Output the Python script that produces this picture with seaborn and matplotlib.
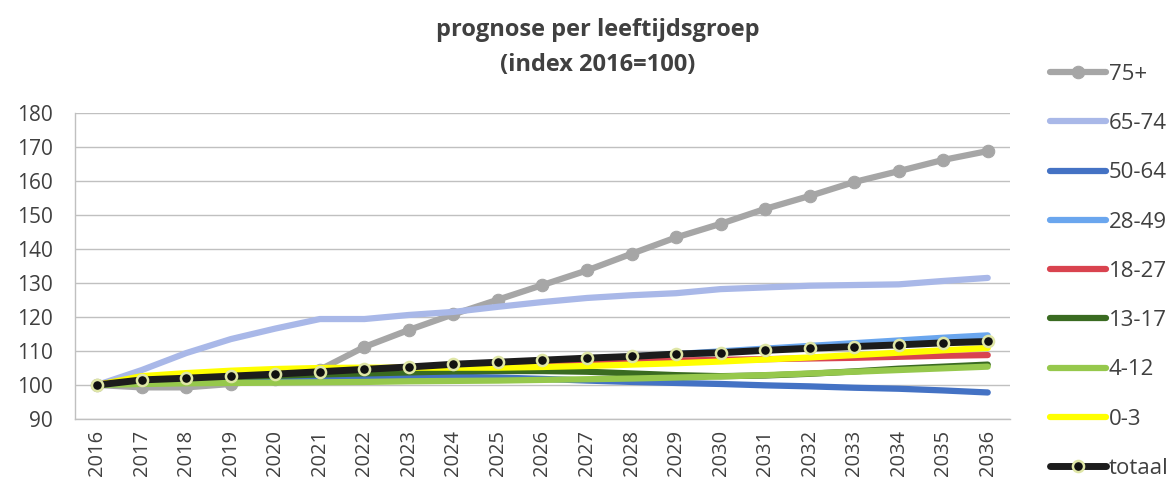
import matplotlib
matplotlib.use("Agg")
import matplotlib.pyplot as plt
import seaborn as sns
import pandas as pd

jaren = list(range(2016, 2037))

s75 = [100, 99.3, 99.3, 100.3, 101.8, 104.5, 111.2, 116.2, 120.8, 125.1, 129.4,
       133.7, 138.6, 143.4, 147.4, 151.8, 155.6, 159.7, 162.9, 166.2, 168.8]
s65 = [100, 104.4, 109.4, 113.5, 116.6, 119.4, 119.4, 120.6, 121.5, 123.0, 124.4,
       125.6, 126.4, 127.0, 128.2, 128.7, 129.2, 129.4, 129.6, 130.6, 131.5]
s50 = [100, 100.6, 101.1, 101.5, 101.8, 102.1, 102.3, 102.4, 102.4, 102.2, 101.8,
       101.3, 100.9, 100.6, 100.3, 99.9, 99.6, 99.2, 98.9, 98.4, 97.8]
s28 = [100, 101.2, 101.8, 102.4, 103.0, 103.6, 104.2, 104.9, 105.6, 106.3, 107.0,
       107.7, 108.4, 109.1, 109.9, 110.7, 111.5, 112.3, 113.1, 113.9, 114.6]
s18 = [100, 102.2, 102.7, 103.2, 103.7, 104.2, 104.7, 105.2, 105.6, 106.0, 106.4,
       106.7, 107.0, 107.2, 107.4, 107.6, 107.8, 108.0, 108.3, 108.6, 108.8]
s13 = [100, 101.2, 101.8, 102.3, 102.7, 103.1, 103.4, 103.7, 104.0, 104.1, 104.1,
       103.9, 103.4, 102.9, 102.6, 102.8, 103.3, 104.0, 104.8, 105.4, 106.0]
s4 = [100, 100.3, 100.5, 100.6, 100.7, 100.8, 100.9, 101.1, 101.2, 101.3, 101.5,
      101.7, 101.9, 102.2, 102.5, 102.9, 103.4, 103.9, 104.4, 104.9, 105.4]
s0 = [100, 102.6, 103.5, 104.2, 104.7, 105.0, 105.1, 105.1, 105.1, 105.1, 105.3,
      105.6, 106.0, 106.4, 106.9, 107.5, 108.1, 108.8, 109.5, 110.2, 110.9]
totaal = [100, 101.5, 102.0, 102.6, 103.2, 103.9, 104.6, 105.3, 106.1, 106.7, 107.3,
          107.9, 108.4, 109.1, 109.5, 110.2, 110.8, 111.3, 111.8, 112.4, 112.8]

groepen = ["75+", "65-74", "50-64", "28-49", "18-27", "13-17", "4-12", "0-3", "totaal"]
reeksen = [s75, s65, s50, s28, s18, s13, s4, s0, totaal]
kleuren = ["#a6a6a6", "#a9b8e8", "#4472c4", "#6aa6ee", "#d9434f",
           "#3a6b21", "#96c84c", "#ffff00", "#1c1c1c"]

df = pd.DataFrame({"jaar": jaren})
for g, r in zip(groepen, reeksen):
    df[g] = r

sns.set_style("white")
plt.rcParams["font.family"] = ["Open Sans", "DejaVu Sans"]

fig = plt.figure(figsize=(11.75, 4.86), dpi=100)
ax = fig.add_axes([75 / 1175, 1 - 419 / 486, 935 / 1175, 306 / 486])

for g, c in zip(groepen, kleuren):
    if g == "75+":
        sns.lineplot(data=df, x="jaar", y=g, ax=ax, color=c, linewidth=4.5,
                     marker="o", markersize=9, markeredgecolor=c, label=g)
    elif g == "totaal":
        sns.lineplot(data=df, x="jaar", y=g, ax=ax, color=c, linewidth=5,
                     marker="o", markersize=8, markerfacecolor="#111111",
                     markeredgecolor="#dfe6a6", markeredgewidth=1.8, label=g)
    else:
        sns.lineplot(data=df, x="jaar", y=g, ax=ax, color=c, linewidth=4.5, label=g)

ax.set_xlim(2015.5, 2036.5)
ax.set_ylim(90, 180)
ax.set_yticks(range(90, 181, 10))
ax.set_xticks(jaren)
ax.set_xticklabels([str(j) for j in jaren], rotation=90)
ax.tick_params(axis="y", labelsize=15, labelcolor="#404040", length=0, pad=16)
ax.tick_params(axis="x", labelsize=14.5, labelcolor="#404040", length=0, pad=8)
ax.set_xlabel("")
ax.set_ylabel("")
ax.yaxis.grid(True, color="#c0c0c0", linewidth=1)
ax.xaxis.grid(False)
for side in ["top", "right"]:
    ax.spines[side].set_visible(False)
for side in ["left", "bottom"]:
    ax.spines[side].set_color("#c0c0c0")
    ax.spines[side].set_linewidth(1)

ax.legend(loc="upper left", bbox_to_anchor=(1050 / 1175, 1 - 64 / 486),
          bbox_transform=fig.transFigure, frameon=False, fontsize=16,
          handlelength=2.5, handletextpad=0.15, labelspacing=1.27,
          borderpad=0, borderaxespad=0, labelcolor="#404040")

fig.text(598 / 1175, 1 - 30 / 486, "prognose per leeftijdsgroep", ha="center",
         va="center", fontsize=17, fontweight="bold", color="#404040")
fig.text(598 / 1175, 1 - 65 / 486, "(index 2016=100)", ha="center",
         va="center", fontsize=17, fontweight="bold", color="#404040")

fig.savefig("out.png", dpi=100)
